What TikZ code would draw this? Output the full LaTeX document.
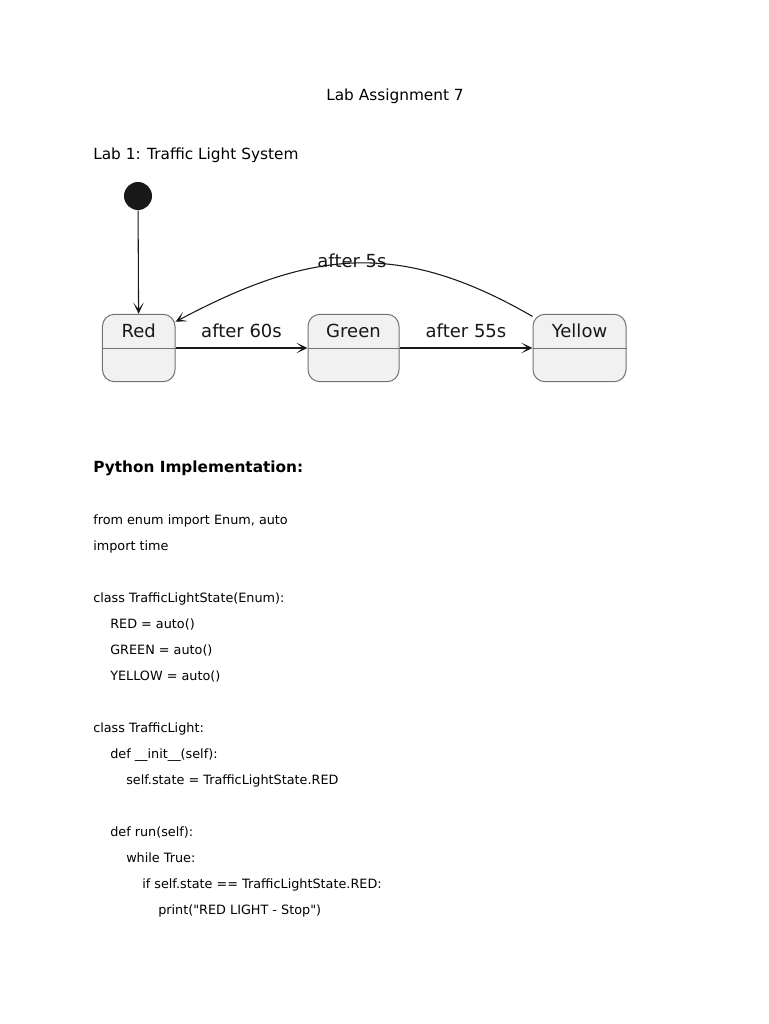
\documentclass[tikz,border=0pt]{standalone}
\usepackage{fontspec}
\setmainfont{DejaVu Sans}
\usepackage{tikz}
\usetikzlibrary{positioning,arrows.meta}
\definecolor{statefill}{HTML}{F1F1F1}
\definecolor{stateline}{HTML}{727272}
\definecolor{ink}{HTML}{181818}
\tikzstyle{state} = [rectangle, rounded corners=9pt, minimum height=50.6pt, inner sep=0pt, draw=stateline, fill=statefill, line width=0.75pt]
\tikzstyle{statename} = [anchor=base, inner sep=0pt, text=ink, font=\fontsize{13.5}{15}\selectfont]
\tikzstyle{trans} = [ink, line width=0.8pt, -{Stealth[length=8.5pt,width=8pt,inset=5pt]}]
\tikzstyle{tlabel} = [inner sep=0pt, text=ink, font=\fontsize{13.5}{15}\selectfont]
\tikzstyle{heading} = [anchor=base west, inner sep=0pt, font=\fontsize{11.5}{13}\selectfont]
\tikzstyle{code} = [anchor=base west, inner sep=0pt, font=\fontsize{9.6}{11}\selectfont]

\begin{document}
\begin{tikzpicture}[x=0.75pt, y=-0.75pt]
\useasboundingbox[fill=white] (0,0) rectangle (768,1024);
% page headings
\node[heading, anchor=base] (title) at (395,100.7) {Lab Assignment 7};
\node[heading] (lab) at (93,159.5) {Lab 1: Traffic Light System};
% state diagram
\node[circle, fill=ink, inner sep=0pt, minimum size=21pt] (start) at (138,196) {};
\node[state, minimum width=54.4pt] (red) at (138.75,348) {};
\node[state, minimum width=68.25pt] (green) at (353.5,348) {};
\node[state, minimum width=69.75pt] (yellow) at (579.5,348) {};
\node[statename] (redname) at (red.north) [yshift=-17.5pt] {Red};
\node[statename] (greenname) at (green.north) [yshift=-17.5pt] {Green};
\node[statename] (yellowname) at (yellow.north) [yshift=-17.5pt] {Yellow};
\draw[stateline, line width=0.75pt] (red.west) -- (red.east);
\draw[stateline, line width=0.75pt] (green.west) -- (green.east);
\draw[stateline, line width=0.75pt] (yellow.west) -- (yellow.east);
\draw[trans] (start) -- (red);
\draw[trans] (red.east) -- (green.west) node [tlabel, midway, above=8pt, anchor=base]
                    {after 60s};
\draw[trans] (green.east) -- (yellow.west) node [tlabel, midway, above=8pt, anchor=base]
                    {after 55s};
\draw[trans] ([yshift=-2pt]yellow.north west) to[out=150, in=28, looseness=1.1]
                    ([yshift=-6pt]red.north east);
\node[tlabel] (back) at (352,261) {after 5s};
% python listing
\node[heading, font=\fontsize{11.5}{13}\selectfont\bfseries] (py) at (93,472.3) {Python Implementation:};
\node[code] (c1) at (93,524.5) {from enum import Enum, auto};
\node[code] (c2) at (93,550.5) {import time};
\node[code] (c3) at (93,602.5) {class TrafficLightState(Enum):};
\node[code] (c4) at (110,628.5) {RED = auto()};
\node[code] (c5) at (110,654.5) {GREEN = auto()};
\node[code] (c6) at (110,680.5) {YELLOW = auto()};
\node[code] (c7) at (93,732.5) {class TrafficLight:};
\node[code] (c8) at (110,758.5) {def \_\_init\_\_(self):};
\node[code] (c9) at (126,784.5) {self.state = TrafficLightState.RED};
\node[code] (c10) at (110,836.5) {def run(self):};
\node[code] (c11) at (126,862.5) {while True:};
\node[code] (c12) at (142,888.5) {if self.state == TrafficLightState.RED:};
\node[code] (c13) at (158,914.5) {print(\textquotedbl RED LIGHT - Stop\textquotedbl)};
\end{tikzpicture}
\end{document}
